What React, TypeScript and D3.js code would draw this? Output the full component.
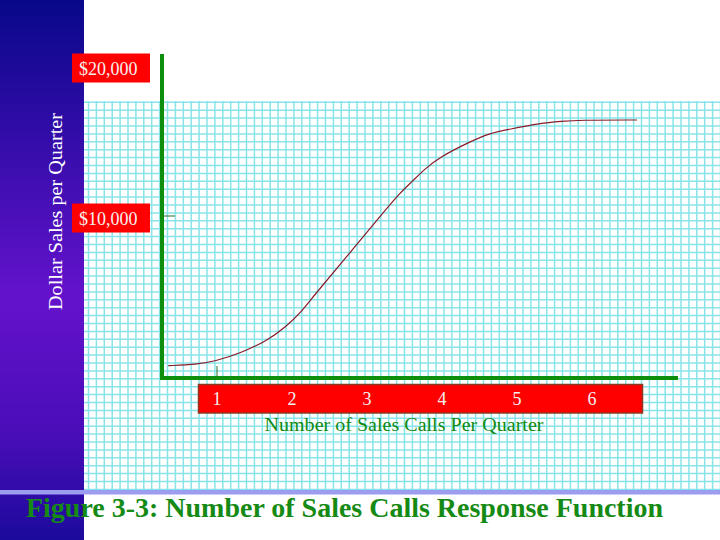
import React from "react";
import * as d3 from "d3";

const callValues = [0.35, 0.73, 0.97, 1.31, 1.67, 1.92, 2.11, 2.28, 2.73, 3.17, 3.44, 3.6, 3.77, 3.97, 4.37, 4.64, 4.91, 5.31, 5.6, 5.81, 6.6];
const salesValues = [20, 110, 310, 850, 1690, 2620, 3530, 4620, 7290, 9950, 11550, 12290, 13130, 13930, 14950, 15530, 15800, 16180, 16310, 16400, 16400];
const xTickLabels = [1, 2, 3, 4, 5, 6];
const yTickValues = [10000, 20000];
const yTickLabels = ["$10,000", "$20,000"];
const xTitle = "Number of Sales Calls Per Quarter";
const yTitle = "Dollar Sales per Quarter";
const figTitle = "Figure 3-3: Number of Sales Calls Response Function";

const W = 720;
const H = 540;
const SERIF = "'Liberation Serif', 'Times New Roman', Times, serif";

export default function App() {
  const x = d3.scaleLinear().domain([1, 6]).range([217, 592]);
  const y = d3.scaleLinear().domain([0, 20000]).range([366, 66]);
  const pts: [number, number][] = callValues.map((c, i) => [c, salesValues[i]]);
  const line = d3
    .line<[number, number]>()
    .x((d) => x(d[0]))
    .y((d) => y(d[1]))
    .curve(d3.curveBasis);

  const gridStep = 7.9;
  const vLines = d3.range(88.5, W + 1, gridStep);
  const hLines = d3.range(102.3, 490, gridStep);

  return (
    <svg width={W} height={H} style={{ position: "absolute", left: 0, top: 0 }} xmlns="http://www.w3.org/2000/svg">
      <defs>
        <linearGradient id="sideGrad" x1="0" y1="0" x2="0" y2="1">
          <stop offset="0" stopColor="#08088a" />
          <stop offset="0.55" stopColor="#6412cc" />
          <stop offset="0.8" stopColor="#4a0db8" />
          <stop offset="1" stopColor="#1c0a9c" />
        </linearGradient>
      </defs>
      <rect x={0} y={0} width={W} height={H} fill="#ffffff" />
      {/* grid */}
      <g stroke="#88e4e8" strokeWidth={1.5}>
        {vLines.map((vx, i) => (
          <line key={"v" + i} x1={vx} x2={vx} y1={101} y2={489} />
        ))}
        {hLines.map((hy, i) => (
          <line key={"h" + i} x1={84} x2={W} y1={hy} y2={hy} />
        ))}
      </g>
      {/* side bar */}
      <rect x={0} y={0} width={84} height={H} fill="url(#sideGrad)" />
      {/* band */}
      <rect x={0} y={490} width={W} height={4.5} fill="#9c9cf0" />

      {/* y axis title */}
      <text
        transform={`translate(61.5, ${211.5}) rotate(-90)`}
        textAnchor="middle"
        fontFamily={SERIF}
        fontSize={19.5}
        fill="#ffffff"
        textLength={197}
        lengthAdjust="spacingAndGlyphs"
      >
        {yTitle}
      </text>

      {/* axes */}
      <line x1={162} x2={162} y1={54} y2={380} stroke="#0d8f0d" strokeWidth={4} />
      <line x1={160} x2={678} y1={378} y2={378} stroke="#0d8f0d" strokeWidth={4} />
      {/* small ticks */}
      <line x1={164} x2={175} y1={y(yTickValues[0])} y2={y(yTickValues[0])} stroke="#2a6a2a" strokeWidth={1} />
      <line x1={x(xTickLabels[0])} x2={x(xTickLabels[0])} y1={366} y2={376} stroke="#2a6a2a" strokeWidth={1} />

      {/* curve */}
      <path d={line(pts) || ""} fill="none" stroke="#8a1a2a" strokeWidth={1.2} />

      {/* y labels */}
      {yTickValues.map((v, i) => (
        <g key={"yl" + i}>
          <rect x={72} y={y(v) - 12.5} width={78} height={29} fill="#ff0000" />
          <text x={79} y={y(v) + 8.5} fontFamily={SERIF} fontSize={18} fill="#f4f0f0">
            {yTickLabels[i]}
          </text>
        </g>
      ))}

      {/* x label box */}
      <rect x={198.5} y={384.5} width={444} height={28.5} fill="#ff0000" stroke="#8a3a22" strokeWidth={1.5} />
      {xTickLabels.map((t) => (
        <text key={"xl" + t} x={x(t)} y={405} textAnchor="middle" fontFamily={SERIF} fontSize={18} fill="#f4f0f0">
          {t}
        </text>
      ))}
      <text
        x={404}
        y={431}
        textAnchor="middle"
        fontFamily={SERIF}
        fontSize={19}
        fill="#138a13"
        textLength={279}
        lengthAdjust="spacingAndGlyphs"
      >
        {xTitle}
      </text>

      {/* figure title */}
      <text
        x={26}
        y={517}
        fontFamily={SERIF}
        fontSize={27}
        fontWeight="bold"
        fill="#158a15"
        textLength={637}
        lengthAdjust="spacingAndGlyphs"
      >
        {figTitle}
      </text>
    </svg>
  );
}
